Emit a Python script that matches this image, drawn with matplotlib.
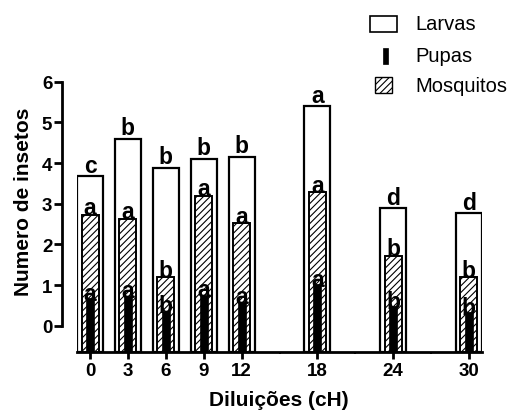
import numpy as np
import matplotlib
matplotlib.use("Agg")
import matplotlib.pyplot as plt
from matplotlib.patches import Rectangle


# ============================================================
# data
# ============================================================

dilutions = ["0", "3", "6", "9", "12", "18", "24", "30"]
# slots on the axis (12 -> 18 etc. leave a gap)
slots = [0, 1, 2, 3, 4, 6, 8, 10]

larvas = [3.67, 4.60, 3.89, 4.11, 4.16, 5.41, 2.90, 2.76]
mosquitos = [2.72, 2.62, 1.19, 3.19, 2.52, 3.28, 1.72, 1.19]
pupas = [0.67, 0.74, 0.37, 0.76, 0.59, 1.02, 0.48, 0.33]

larvas_letters = ["c", "b", "b", "b", "b", "a", "d", "d"]
mosquitos_letters = ["a", "a", "b", "a", "a", "a", "b", "b"]
pupas_letters = ["a", "a", "b", "a", "a", "a", "b", "b"]


# ============================================================
# figure
# ============================================================

plt.rcParams["font.family"] = ["Liberation Sans", "DejaVu Sans"]
plt.rcParams["hatch.linewidth"] = 0.8

W, H = 513, 414
fig = plt.figure(figsize=(W / 100, H / 100), dpi=100)
ax = fig.add_axes([77 / W, 1 - 353.3 / H, 405 / W, 283.3 / H])

y_bottom = -0.654
x = np.array(slots, dtype=float)


def bars_from_floor(values, width, **kw):
    vals = np.array(values)
    return ax.bar(x, vals - y_bottom, bottom=y_bottom, width=width, **kw)


bars_from_floor(larvas, 0.69, facecolor="white", edgecolor="black",
                linewidth=1.6, zorder=2)
bars_from_floor(mosquitos, 0.45, facecolor="white", edgecolor="black",
                linewidth=1.4, hatch="/////", zorder=3)
bars_from_floor(pupas, 0.21, facecolor="black", edgecolor="black",
                linewidth=0.5, zorder=4)


def put_letters(values, letters, dy=1.5):
    for xi, v, s in zip(x, values, letters):
        ax.annotate(s, (xi, v), xytext=(0, dy), textcoords="offset points",
                    ha="center", va="baseline", fontsize=16.5,
                    fontweight="bold", zorder=6)


put_letters(larvas, larvas_letters, dy=3.0)
put_letters(mosquitos, mosquitos_letters, dy=0.5)
put_letters(pupas, pupas_letters, dy=-1.0)

ax.set_xlim(-0.344, 10.344)
ax.set_ylim(y_bottom, 6.312)

ax.spines["top"].set_visible(False)
ax.spines["right"].set_visible(False)
ax.spines["left"].set_position(("outward", 10.8))
ax.spines["left"].set_bounds(0, 6)
ax.spines["left"].set_linewidth(2)
ax.spines["bottom"].set_linewidth(2)

ax.set_yticks(range(7))
ax.set_xticks(x)
ax.set_xticklabels(dilutions)
ax.set_xticks([5, 7, 9], minor=True)

ax.tick_params(axis="y", length=6, width=2, pad=1, labelsize=13.5)
ax.tick_params(axis="x", which="major", length=5, width=2, pad=2, labelsize=13.5)
ax.tick_params(axis="x", which="minor", length=1.5, width=1.5)
for lab in ax.get_xticklabels() + ax.get_yticklabels():
    lab.set_fontweight("bold")

ax.set_ylabel("Numero de insetos", fontsize=15, fontweight="bold", va="center")
ax.yaxis.set_label_coords(-0.132, 0.536)
ax.set_xlabel("Diluições (cH)", fontsize=15, fontweight="bold", va="center")
ax.xaxis.set_label_coords(0.4975, -0.165)


# ============================================================
# legend (drawn by hand, handles have different sizes)
# ============================================================

def px_rect(x0, y0, w, h, **kw):
    r = Rectangle((x0 / W, 1 - (y0 + h) / H), w / W, h / H,
                  transform=fig.transFigure, **kw)
    fig.add_artist(r)


px_rect(370, 17, 27, 16, facecolor="white", edgecolor="black", linewidth=1.2)
px_rect(383, 49, 5, 16, facecolor="black", edgecolor="black", linewidth=0.5)
px_rect(375, 78, 17, 16, facecolor="white", edgecolor="black", linewidth=1.0,
        hatch="/////")

for label, yc in [("Larvas", 25), ("Pupas", 57), ("Mosquitos", 87)]:
    fig.text(415 / W, 1 - yc / H, label, fontsize=14.5, va="center", ha="left")

fig.savefig("out.png", dpi=100)
